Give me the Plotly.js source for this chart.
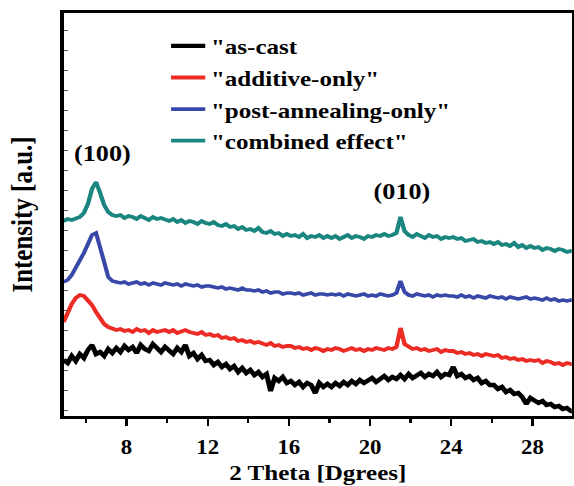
<!DOCTYPE html>
<html>
<head>
<meta charset="utf-8">
<script src="https://cdn.plot.ly/plotly-3.0.1.min.js"></script>
<style>
  html, body { margin: 0; padding: 0; background: #fff; overflow: hidden; }
  /* the figure is laid out narrower and widened horizontally, giving the wide serif lettering */
  #xrd { width: 504px; height: 486px; transform: scaleX(1.139); transform-origin: 0 0; }
  svg text { font-family: 'Liberation Serif', 'Times New Roman', serif !important; font-weight: bold !important; }
</style>
</head>
<body>
<div id="xrd"></div>
<script>
// 2θ sampling positions (degrees)
const twoTheta = [
  4.9, 5.1, 5.3, 5.5, 5.7, 5.9, 6.1, 6.3, 6.5, 6.7, 6.9, 7.1, 7.3, 7.5,
  7.7, 7.9, 8.1, 8.3, 8.5, 8.7, 8.9, 9.1, 9.3, 9.5, 9.7, 9.9,
  10.1, 10.3, 10.5, 10.7, 10.9, 11.1, 11.3, 11.5, 11.7, 11.9,
  12.1, 12.3, 12.5, 12.7, 12.9, 13.1, 13.3, 13.5, 13.7, 13.9,
  14.1, 14.3, 14.5, 14.7, 14.9, 15.1, 15.3, 15.5, 15.7, 15.9,
  16.1, 16.3, 16.5, 16.7, 16.9, 17.1, 17.3, 17.5, 17.7, 17.9,
  18.1, 18.3, 18.5, 18.7, 18.9, 19.1, 19.3, 19.5, 19.7, 19.9,
  20.1, 20.3, 20.5, 20.7, 20.9, 21.1, 21.3, 21.5, 21.7,
  21.9, 22.1, 22.3, 22.5, 22.7, 22.9, 23.1, 23.3, 23.5, 23.7, 23.9,
  24.1, 24.3, 24.5, 24.7, 24.9, 25.1, 25.3, 25.5, 25.7, 25.9,
  26.1, 26.3, 26.5, 26.7, 26.9, 27.1, 27.3, 27.5, 27.7, 27.9,
  28.1, 28.3, 28.5, 28.7, 28.9, 29.1, 29.3, 29.5, 29.7, 29.9, 30.1
];

// Intensities (a.u., curves offset vertically)
const asCast = [
  56, 53, 60, 55, 62, 58, 66, 71, 62, 64, 60, 67, 63, 68,
  64, 70, 66, 69, 63, 71, 67, 65, 72, 68, 64, 69,
  66, 62, 68, 64, 71, 60, 63, 57, 61, 55,
  56, 51, 54, 49, 52, 47, 50, 44, 48, 43,
  46, 41, 44, 39, 42, 25, 38, 35, 39, 33,
  35, 31, 34, 29, 33, 31, 23, 33, 29, 32,
  29, 33, 30, 34, 31, 35, 32, 36, 33, 35,
  38, 34, 37, 40, 36, 39, 37, 41, 37,
  42, 38, 40, 43, 39, 42, 40, 44, 39, 42, 41,
  49, 40, 42, 38, 40, 36, 38, 33, 35, 31,
  31, 27, 29, 24, 26, 22, 23, 19, 12, 18,
  16, 13, 15, 11, 12, 9, 10, 7, 8, 5, 4
];

const additiveOnly = [
  94, 103, 112, 118, 121, 120, 116, 111, 104, 97, 92, 89, 87, 86,
  87, 85, 86, 84, 87, 85, 86, 83, 86, 84, 85, 86,
  84, 86, 83, 85, 86, 84, 83, 82, 84, 81,
  82, 80, 81, 78, 79, 77, 78, 75, 76, 74,
  75, 73, 74, 72, 71, 73, 70, 71, 69, 70,
  70, 68, 69, 67, 68, 66, 68, 67, 65, 67,
  66, 68, 67, 65, 67, 68, 66, 67, 65, 67,
  66, 68, 67, 66, 68, 67, 69, 88, 72,
  69, 67, 68, 66, 67, 65, 66, 67, 64, 66, 65,
  65, 63, 64, 62, 63, 61, 62, 60, 62, 61,
  60, 61, 58, 59, 57, 58, 56, 57, 55, 56,
  55, 56, 53, 55, 54, 52, 53, 51, 53, 52, 51
];

const postAnnealingOnly = [
  134, 136, 141, 148, 156, 163, 172, 181, 183, 170, 154, 139, 135, 134,
  133, 134, 132, 133, 134, 132, 133, 131, 133, 132, 131, 133,
  132, 131, 132, 130, 132, 131, 130, 131, 129, 130,
  130, 129, 128, 129, 127, 128, 127, 126, 128, 126,
  126, 125, 126, 124, 125, 123, 124, 124, 122, 123,
  123, 122, 123, 121, 122, 123, 121, 122, 122, 121,
  122, 121, 122, 120, 122, 121, 120, 121, 122, 120,
  121, 120, 122, 121, 120, 121, 123, 135, 124,
  121, 120, 122, 121, 120, 121, 119, 121, 120, 121, 120,
  120, 119, 121, 119, 120, 118, 120, 119, 118, 120,
  119, 118, 119, 117, 119, 118, 117, 118, 119, 117,
  118, 117, 116, 118, 116, 117, 115, 116, 115, 116, 115
];

const combinedEffect = [
  195, 197, 196, 198, 199, 203, 212, 227, 234, 223, 211, 204, 201, 200,
  201, 198, 200, 199, 197, 200, 198, 196, 199, 197, 198, 196,
  195, 197, 194, 196, 193, 195, 194, 192, 195, 193,
  192, 194, 191, 190, 192, 189, 190, 187, 189, 186,
  187, 185, 188, 184, 183, 185, 182, 183, 180, 182,
  180, 181, 179, 182, 178, 180, 179, 181, 178, 180,
  178, 180, 177, 179, 181, 178, 180, 179, 177, 180,
  179, 181, 180, 182, 180, 181, 183, 199, 185,
  181, 179, 182, 180, 178, 181, 179, 180, 177, 179, 178,
  179, 177, 178, 175, 176, 177, 174, 175, 173, 174,
  172, 174, 171, 172, 170, 173, 169, 171, 168, 170,
  168, 169, 166, 168, 167, 165, 167, 166, 164, 165, 164
];

const seriesNames = ['"as-cast', '"additive-only"', '"post-annealing-only"', '"combined effect"'];
const seriesValues = [asCast, additiveOnly, postAnnealingOnly, combinedEffect];
const seriesColors = ['#000000', '#ec2b25', '#3848a8', '#1b8580'];
const seriesWidths = [4.4, 3.8, 3.6, 3.8];

// reflection labels: [text, 2θ, intensity]
const peakLabels = [['(100)', 6.82, 263], ['(010)', 21.59, 225]];

const SERIF = 'Liberation Serif';

const traces = seriesValues.map((vals, i) => ({
  type: 'scatter',
  mode: 'lines',
  x: twoTheta,
  y: vals,
  name: seriesNames[i],
  line: { color: seriesColors[i], width: seriesWidths[i] }
}));

const layout = {
  width: 504,
  height: 486,
  margin: { l: 56, r: 2, t: 13, b: 70 },
  paper_bgcolor: '#fff',
  plot_bgcolor: '#fff',
  font: { family: SERIF, color: '#000', weight: 'bold' },
  showlegend: true,
  legend: {
    x: 0.2, y: 0.97, xanchor: 'left', yanchor: 'top',
    bgcolor: 'rgba(0,0,0,0)',
    font: { family: SERIF, size: 22, color: '#000', weight: 'bold' }
  },
  xaxis: {
    range: [4.91, 29.94],
    tickmode: 'linear', tick0: 0, dtick: 4,
    ticks: 'outside', ticklen: 7, tickwidth: 2, tickcolor: '#000',
    minor: { tick0: 0, dtick: 2, ticks: 'outside', ticklen: 4, tickwidth: 2, tickcolor: '#000' },
    ticklabelstandoff: 4,
    tickfont: { family: SERIF, size: 20, color: '#000', weight: 'bold' },
    showline: true, linewidth: 3, linecolor: '#000', mirror: true,
    showgrid: false, zeroline: false,
    title: { text: '2 Theta [Dgrees]', standoff: 8, font: { family: SERIF, size: 22, color: '#000', weight: 'bold' } }
  },
  yaxis: {
    range: [0, 403],
    tickmode: 'linear', tick0: 6, dtick: 20,
    ticks: 'inside', ticklen: 4, tickwidth: 1, tickcolor: '#555',
    showticklabels: false,
    showline: true, linewidth: 3, linecolor: '#000', mirror: true,
    showgrid: false, zeroline: false,
    title: { text: 'Intensity [a.u.]', standoff: 18, font: { family: SERIF, size: 25, color: '#000', weight: 'bold' } }
  },
  annotations: peakLabels.map(p => ({
    text: p[0], x: p[1], y: p[2], xref: 'x', yref: 'y',
    showarrow: false, xanchor: 'center', yanchor: 'middle',
    font: { family: SERIF, size: 23, color: '#000', weight: 'bold' }
  }))
};

Plotly.newPlot('xrd', traces, layout, { displayModeBar: false, staticPlot: true });
</script>
</body>
</html>
